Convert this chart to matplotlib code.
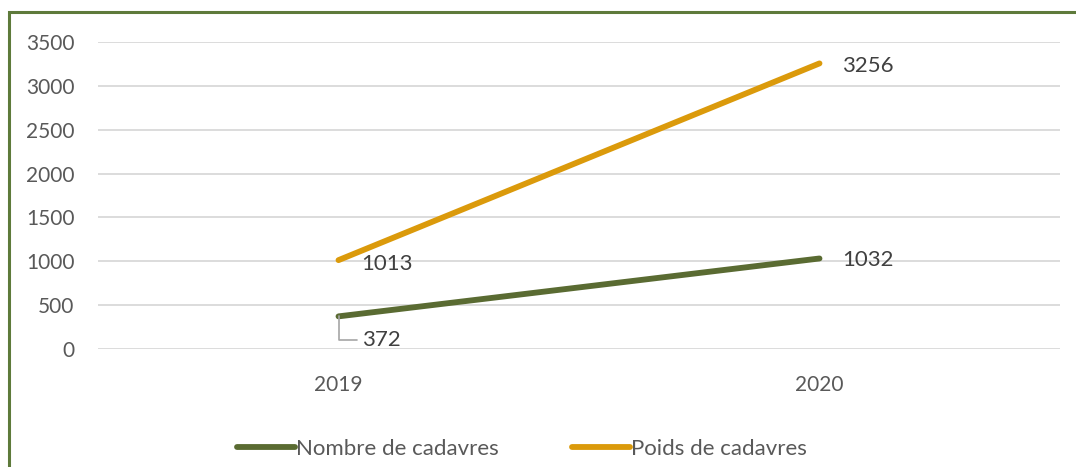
import matplotlib
matplotlib.use("Agg")
import matplotlib.pyplot as plt
from matplotlib.patches import Rectangle

years = ["2019", "2020"]
nombre = [372, 1032]
poids = [1013, 3256]
series_labels = ["Nombre de cadavres", "Poids de cadavres"]
yticks = [0, 500, 1000, 1500, 2000, 2500, 3000, 3500]

green = "#5a6b32"
orange = "#db9a0b"
frame_green = "#5e7a3b"

plt.rcParams['font.family'] = ['Lato', 'DejaVu Sans']

fig = plt.figure(figsize=(10.76, 4.67), dpi=100)
ax = fig.add_axes([98/1076, 1-349/467, (1060-98)/1076, (349-42)/467])

x = list(range(len(years)))
l1, = ax.plot(x, nombre, color=green, lw=4.2, solid_capstyle='round', label=series_labels[0], zorder=3)
l2, = ax.plot(x, poids, color=orange, lw=4.2, solid_capstyle='round', label=series_labels[1], zorder=3)

ax.set_xlim(-0.5, 1.5)
ax.set_ylim(0, 3500)
ax.set_yticks(yticks)
ax.set_xticks(x)
ax.set_xticklabels(years)
ax.grid(axis='y', color='#d9d9d9', lw=1.3)
ax.set_axisbelow(True)
for s in ax.spines.values():
    s.set_visible(False)
ax.tick_params(axis='both', length=0, labelsize=15, labelcolor='#595959')
ax.tick_params(axis='y', pad=17)
ax.tick_params(axis='x', pad=19)

lab = dict(fontsize=16, color='#404040', va='center')
# 2019 labels
ax.annotate(str(poids[0]), (x[0], poids[0]), xytext=(16, -3), textcoords='offset points', ha='left', **lab)
ax.annotate(str(nombre[0]), (x[0], nombre[0]), xytext=(17, -17), textcoords='offset points', ha='left',
            arrowprops=dict(arrowstyle='-', color='#a6a6a6', lw=1.2,
                            connectionstyle='angle,angleA=0,angleB=90,rad=0',
                            shrinkA=2, shrinkB=0), **lab)
ax.annotate(str(poids[1]), (x[1], poids[1]), xytext=(16, -2), textcoords='offset points', ha='left', **lab)
ax.annotate(str(nombre[1]), (x[1], nombre[1]), xytext=(16, -1), textcoords='offset points', ha='left', **lab)

leg = fig.legend(handles=[l1, l2], labels=series_labels, loc='center', bbox_to_anchor=(522/1076, 1-449/467),
                 ncol=2, frameon=False, fontsize=16, handlelength=2.6, handletextpad=0.05,
                 columnspacing=3.3, labelcolor='#595959')

fig.patches.append(Rectangle((9/1076, -0.1), 1.2, 1 - 12/467 + 0.1, transform=fig.transFigure,
                             fill=False, edgecolor=frame_green, lw=2.2))

fig.savefig("out.png", dpi=100)
